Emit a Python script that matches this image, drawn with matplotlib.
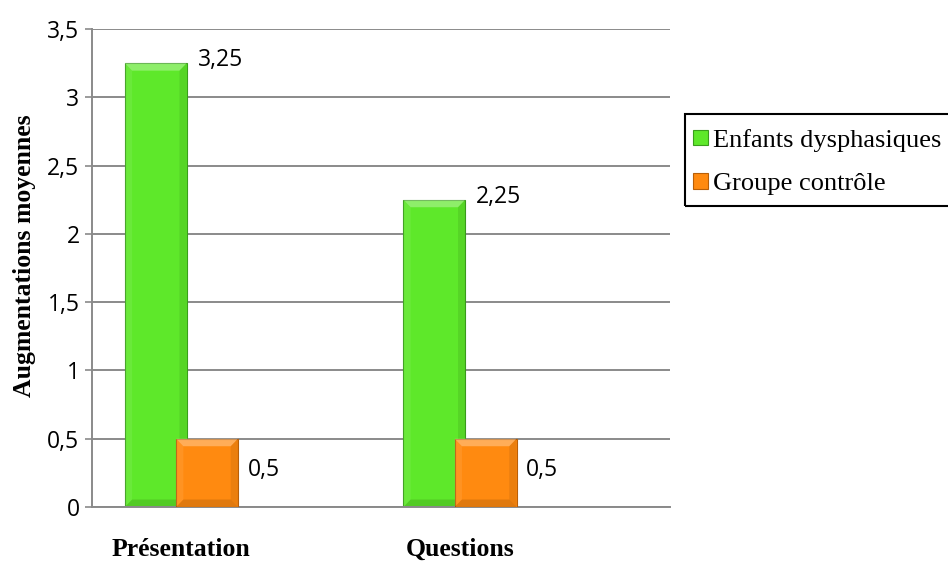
import numpy as np
import matplotlib
matplotlib.use('Agg')
import matplotlib.pyplot as plt
from matplotlib.patches import Polygon, Rectangle

# Data
categories = ['Présentation', 'Questions']
series_names = ['Enfants dysphasiques', 'Groupe contrôle']
dysphasiques = [3.25, 2.25]
controle = [0.5, 0.5]
value_labels_dys = ['3,25', '2,25']
value_labels_ctl = ['0,5', '0,5']
yticks = [0, 0.5, 1, 1.5, 2, 2.5, 3, 3.5]
ytick_labels = ['0', '0,5', '1', '1,5', '2', '2,5', '3', '3,5']

green = '#5ee82a'
green_edge = '#3a9e1c'
orange = '#ff8a10'
orange_edge = '#b85f08'

fig = plt.figure(figsize=(9.48, 5.61), dpi=100)
ax = fig.add_axes([92 / 948, 54 / 561, 578 / 948, 478 / 561])

x = np.arange(len(categories))
width = 0.222
off = 0.092

ax.set_axisbelow(True)
ax.yaxis.grid(True, color='#8a8a8a', linewidth=1.4)

b1 = ax.bar(x - off, dysphasiques, width, color=green, edgecolor=green_edge,
            linewidth=0.8, label=series_names[0], zorder=2)
b2 = ax.bar(x + off, controle, width, color=orange, edgecolor=orange_edge,
            linewidth=0.8, label=series_names[1], zorder=3)


# bevel look, like the office chart
def bevel(rect, z):
    x0, y0 = rect.get_x(), rect.get_y()
    x1, y1 = x0 + rect.get_width(), y0 + rect.get_height()
    bx, by = 0.026, 0.055
    faces = [
        ([(x0, y1), (x1, y1), (x1 - bx, y1 - by), (x0 + bx, y1 - by)], 'white', 0.3),
        ([(x0, y0), (x0, y1), (x0 + bx, y1 - by), (x0 + bx, y0 + by)], 'white', 0.08),
        ([(x1, y0), (x1, y1), (x1 - bx, y1 - by), (x1 - bx, y0 + by)], 'black', 0.08),
        ([(x0, y0), (x1, y0), (x1 - bx, y0 + by), (x0 + bx, y0 + by)], 'black', 0.12),
    ]
    for pts, c, a in faces:
        ax.add_patch(Polygon(pts, closed=True, facecolor=c, alpha=a,
                             edgecolor='none', zorder=z + 0.1))


for r in b1:
    bevel(r, 2)
for r in b2:
    bevel(r, 3)

# value labels
for i in range(len(categories)):
    ax.annotate(value_labels_dys[i], (x[i] - off + width / 2, dysphasiques[i]),
                xytext=(8, 2), textcoords='offset points', va='center', ha='left',
                fontsize=16.5, family='Open Sans')
    ax.annotate(value_labels_ctl[i], (x[i] + off + width / 2, controle[i] / 2),
                xytext=(7, 2), textcoords='offset points', va='center', ha='left',
                fontsize=16.5, family='Open Sans')

ax.set_xlim(-0.321, 1.754)
ax.set_ylim(0, 3.5)
ax.set_yticks(yticks)
ax.set_yticklabels(ytick_labels, family='Open Sans', fontsize=16.5)
ax.set_xticks(x)
ax.set_xticklabels(categories, family='Liberation Serif', fontweight='bold', fontsize=18.5)
ax.tick_params(axis='x', length=0, pad=22)
ax.tick_params(axis='y', length=5, width=1.2, color='#8a8a8a', pad=4)

for s in ['top', 'right']:
    ax.spines[s].set_visible(False)
for s in ['left', 'bottom']:
    ax.spines[s].set_color('#8a8a8a')
    ax.spines[s].set_linewidth(1.4)

fig.text(25 / 948, 1 - 256 / 561, 'Augmentations moyennes', rotation=90,
         ha='center', va='center', family='Liberation Serif', fontweight='bold',
         fontsize=18.5)

# legend frame runs off the right edge in the original
fig.patches.append(Rectangle((685 / 948, 1 - 206 / 561), 300 / 948, 92 / 561,
                             transform=fig.transFigure, fill=False,
                             edgecolor='black', linewidth=1.5))
leg = fig.legend(handles=[b1, b2], loc='center left',
                 bbox_to_anchor=(693 / 948, 1 - 162 / 561),
                 prop={'family': 'Liberation Serif', 'size': 19},
                 frameon=False,
                 handlelength=0.55, handleheight=0.55, handletextpad=0.2,
                 borderaxespad=0, borderpad=0, labelspacing=0.8)

fig.savefig('out.png', dpi=100)
